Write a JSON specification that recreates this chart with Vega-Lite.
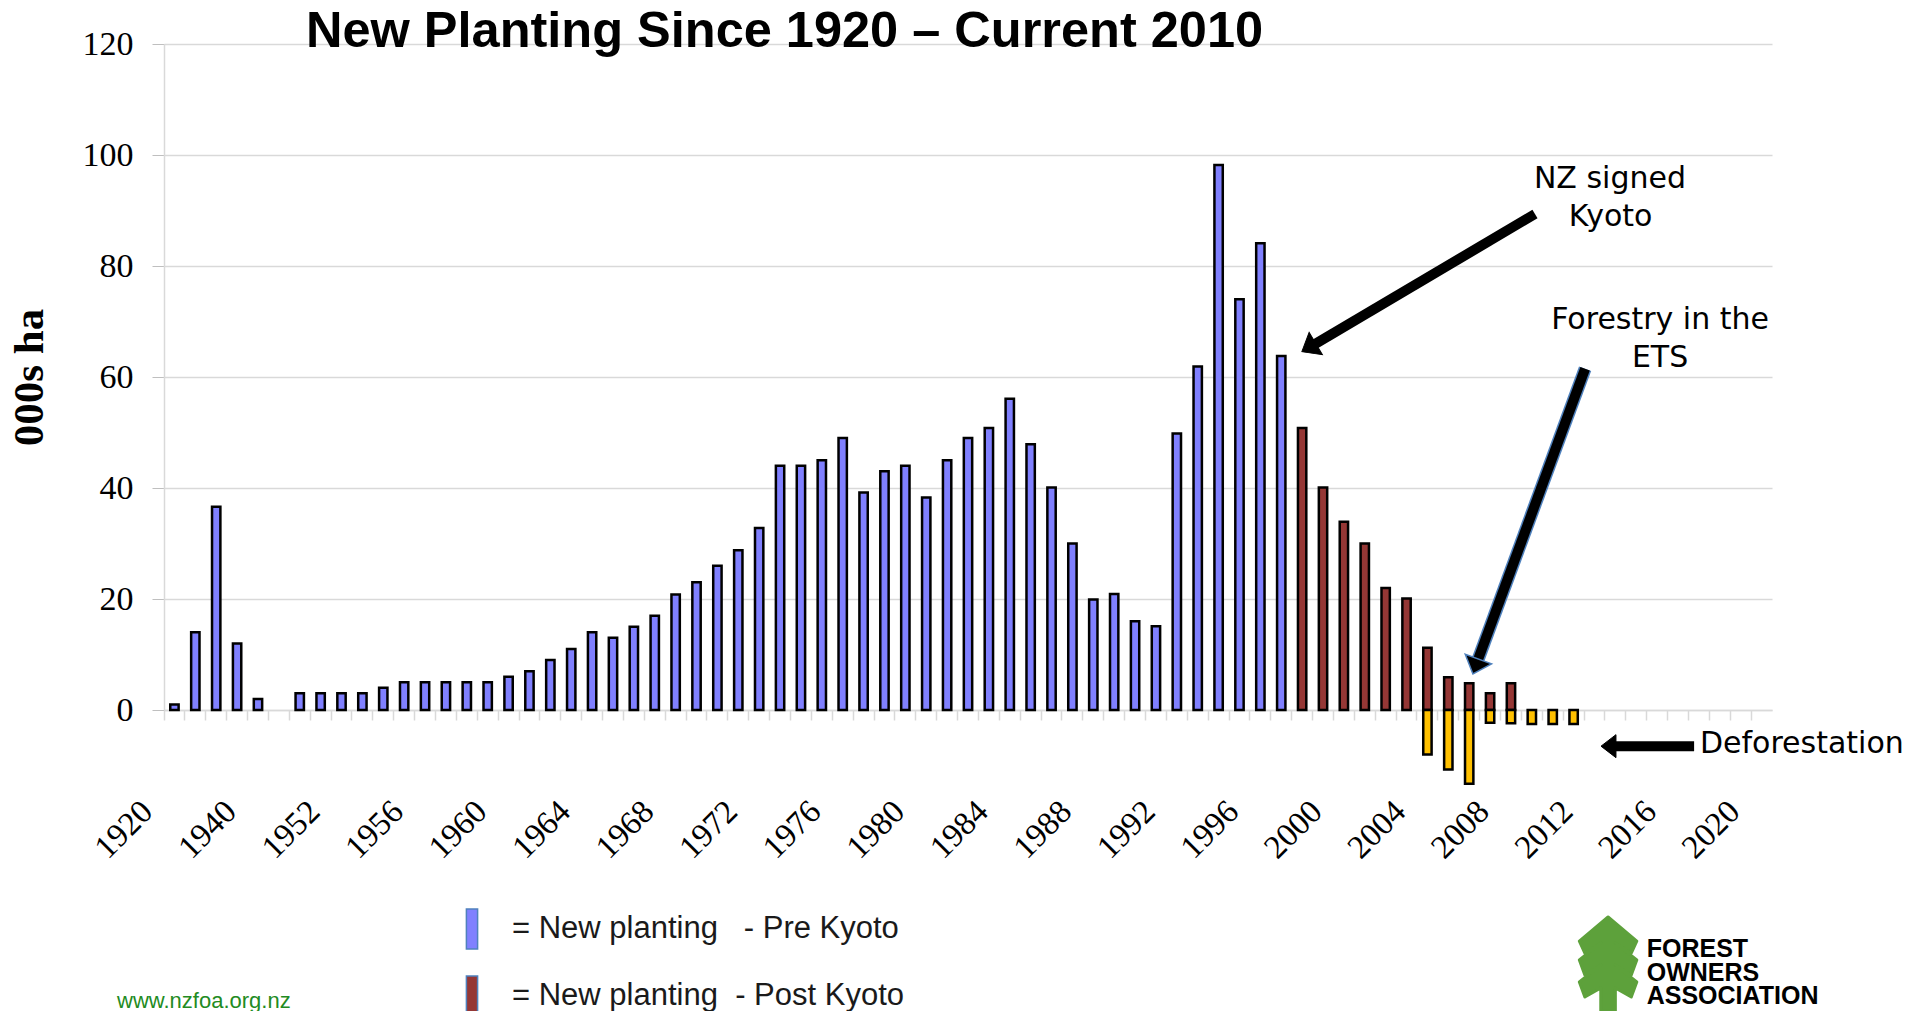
{
  "$schema": "https://vega.github.io/schema/vega-lite/v6.json",
  "width": 1608,
  "height": 666,
  "autosize": {"type": "none"},
  "padding": {"left": 164, "top": 44, "right": 155, "bottom": 301},
  "background": "white",
  "config": {"view": {"stroke": null}, "font": "Liberation Sans"},
  "title": {
    "text": "New Planting Since 1920 – Current 2010",
    "anchor": "start", "frame": "group", "dx": 142, "offset": -70,
    "baseline": "alphabetic", "font": "Liberation Sans", "fontSize": 50.5,
    "fontWeight": "bold", "color": "black"
  },
  "datasets": {
    "bars": [
      {"year": "1920", "value": 1, "type": "Pre Kyoto"},
      {"year": "1925", "value": 14, "type": "Pre Kyoto"},
      {"year": "1930", "value": 36.6, "type": "Pre Kyoto"},
      {"year": "1935", "value": 12, "type": "Pre Kyoto"},
      {"year": "1940", "value": 2, "type": "Pre Kyoto"},
      {"year": "1950", "value": 3, "type": "Pre Kyoto"},
      {"year": "1951", "value": 3, "type": "Pre Kyoto"},
      {"year": "1952", "value": 3, "type": "Pre Kyoto"},
      {"year": "1953", "value": 3, "type": "Pre Kyoto"},
      {"year": "1954", "value": 4, "type": "Pre Kyoto"},
      {"year": "1955", "value": 5, "type": "Pre Kyoto"},
      {"year": "1956", "value": 5, "type": "Pre Kyoto"},
      {"year": "1957", "value": 5, "type": "Pre Kyoto"},
      {"year": "1958", "value": 5, "type": "Pre Kyoto"},
      {"year": "1959", "value": 5, "type": "Pre Kyoto"},
      {"year": "1960", "value": 6, "type": "Pre Kyoto"},
      {"year": "1961", "value": 7, "type": "Pre Kyoto"},
      {"year": "1962", "value": 9, "type": "Pre Kyoto"},
      {"year": "1963", "value": 11, "type": "Pre Kyoto"},
      {"year": "1964", "value": 14, "type": "Pre Kyoto"},
      {"year": "1965", "value": 13, "type": "Pre Kyoto"},
      {"year": "1966", "value": 15, "type": "Pre Kyoto"},
      {"year": "1967", "value": 17, "type": "Pre Kyoto"},
      {"year": "1968", "value": 20.8, "type": "Pre Kyoto"},
      {"year": "1969", "value": 23, "type": "Pre Kyoto"},
      {"year": "1970", "value": 26, "type": "Pre Kyoto"},
      {"year": "1971", "value": 28.8, "type": "Pre Kyoto"},
      {"year": "1972", "value": 32.8, "type": "Pre Kyoto"},
      {"year": "1973", "value": 44, "type": "Pre Kyoto"},
      {"year": "1974", "value": 44, "type": "Pre Kyoto"},
      {"year": "1975", "value": 45, "type": "Pre Kyoto"},
      {"year": "1976", "value": 49, "type": "Pre Kyoto"},
      {"year": "1977", "value": 39.2, "type": "Pre Kyoto"},
      {"year": "1978", "value": 43, "type": "Pre Kyoto"},
      {"year": "1979", "value": 44, "type": "Pre Kyoto"},
      {"year": "1980", "value": 38.3, "type": "Pre Kyoto"},
      {"year": "1981", "value": 45, "type": "Pre Kyoto"},
      {"year": "1982", "value": 49, "type": "Pre Kyoto"},
      {"year": "1983", "value": 50.8, "type": "Pre Kyoto"},
      {"year": "1984", "value": 56.1, "type": "Pre Kyoto"},
      {"year": "1985", "value": 47.9, "type": "Pre Kyoto"},
      {"year": "1986", "value": 40.1, "type": "Pre Kyoto"},
      {"year": "1987", "value": 30, "type": "Pre Kyoto"},
      {"year": "1988", "value": 19.9, "type": "Pre Kyoto"},
      {"year": "1989", "value": 20.9, "type": "Pre Kyoto"},
      {"year": "1990", "value": 16, "type": "Pre Kyoto"},
      {"year": "1991", "value": 15.1, "type": "Pre Kyoto"},
      {"year": "1992", "value": 49.8, "type": "Pre Kyoto"},
      {"year": "1993", "value": 61.9, "type": "Pre Kyoto"},
      {"year": "1994", "value": 98.2, "type": "Pre Kyoto"},
      {"year": "1995", "value": 74, "type": "Pre Kyoto"},
      {"year": "1996", "value": 84.1, "type": "Pre Kyoto"},
      {"year": "1997", "value": 63.8, "type": "Pre Kyoto"},
      {"year": "1998", "value": 50.8, "type": "Post Kyoto"},
      {"year": "1999", "value": 40.1, "type": "Post Kyoto"},
      {"year": "2000", "value": 33.9, "type": "Post Kyoto"},
      {"year": "2001", "value": 30, "type": "Post Kyoto"},
      {"year": "2002", "value": 22, "type": "Post Kyoto"},
      {"year": "2003", "value": 20.1, "type": "Post Kyoto"},
      {"year": "2004", "value": 11.2, "type": "Post Kyoto"},
      {"year": "2005", "value": 5.9, "type": "Post Kyoto"},
      {"year": "2006", "value": 4.8, "type": "Post Kyoto"},
      {"year": "2007", "value": 3, "type": "Post Kyoto"},
      {"year": "2008", "value": 4.8, "type": "Post Kyoto"},
      {"year": "2004", "value": -8, "type": "Deforestation"},
      {"year": "2005", "value": -10.7, "type": "Deforestation"},
      {"year": "2006", "value": -13.3, "type": "Deforestation"},
      {"year": "2007", "value": -2.3, "type": "Deforestation"},
      {"year": "2008", "value": -2.4, "type": "Deforestation"},
      {"year": "2009", "value": -2.5, "type": "Deforestation"},
      {"year": "2010", "value": -2.5, "type": "Deforestation"},
      {"year": "2011", "value": -2.5, "type": "Deforestation"}
    ],
    "notes": [
      {"group": "callout", "text": "NZ signed", "xi": 69.24, "v": 94.05},
      {"group": "callout", "text": "Kyoto", "xi": 69.27, "v": 87.2},
      {"group": "callout", "text": "Forestry in the", "xi": 71.64, "v": 68.65},
      {"group": "callout", "text": "ETS", "xi": 71.64, "v": 61.8},
      {"group": "defor", "text": "Deforestation", "xi": 73.55, "v": -7.75},
      {"group": "url", "text": "www.nzfoa.org.nz", "xi": -2.25, "v": -53.7},
      {"group": "logo", "text": "FOREST", "xi": 71.0, "v": -44.5},
      {"group": "logo", "text": "OWNERS", "xi": 71.0, "v": -48.83},
      {"group": "logo", "text": "ASSOCIATION", "xi": 71.0, "v": -52.97}
    ],
    "arrows": [
      {"arrow": "kyoto", "xi": 65.65, "v": 89.37, "xi2": 55.07, "v2": 65.84, "hx": 54.82, "hv": 65.3},
      {"arrow": "ets", "xi": 68.05, "v": 61.5, "xi2": 62.9, "v2": 8.85, "hx": 62.81, "hv": 7.84},
      {"arrow": "defor", "xi": 73.27, "v": -6.52, "xi2": 69.35, "v2": -6.52, "hx": 69.17, "hv": -6.52}
    ],
    "logo": [
      {"name": "tree", "xi": 69.15, "v": -45.77}
    ]
  },
  "resolve": {"scale": {"x": "independent"}},
  "layer": [
    {
      "data": {"name": "bars"},
      "mark": {"type": "bar", "stroke": "black", "strokeWidth": 2.5, "width": {"band": 0.4}},
      "encoding": {
        "x": {
          "field": "year", "type": "ordinal",
          "scale": {"domain": ["1920","1925","1930","1935","1940","1945","1950","1951","1952","1953","1954","1955","1956","1957","1958","1959","1960","1961","1962","1963","1964","1965","1966","1967","1968","1969","1970","1971","1972","1973","1974","1975","1976","1977","1978","1979","1980","1981","1982","1983","1984","1985","1986","1987","1988","1989","1990","1991","1992","1993","1994","1995","1996","1997","1998","1999","2000","2001","2002","2003","2004","2005","2006","2007","2008","2009","2010","2011","2012","2013","2014","2015","2016","2017","2018","2019","2020"], "paddingInner": 0, "paddingOuter": 0},
          "axis": {
            "title": null, "bandPosition": 0, "grid": false,
            "domainColor": "#d9d9d9", "domainWidth": 1.5,
            "tickColor": "#d9d9d9", "tickSize": 10, "tickWidth": 1.5,
            "labelAngle": -45, "labelAlign": "right", "labelBaseline": "middle",
            "labelFont": "Liberation Serif", "labelFontSize": 33, "labelColor": "black",
            "labelPadding": 86, "labelOffset": -27, "labelOverlap": false, "labelBound": false, "labelFlush": false,
            "labelExpr": "datum.value == '1920' || datum.value == '1940' || (toNumber(datum.value) >= 1952 && (toNumber(datum.value) - 1952) % 4 == 0) ? datum.value : ''"
          }
        },
        "y": {
          "field": "value", "type": "quantitative", "stack": null,
          "scale": {"domain": [0, 120], "nice": false, "zero": false},
          "axis": {
            "values": [0, 20, 40, 60, 80, 100, 120],
            "title": "000s ha", "titleFont": "Liberation Serif", "titleFontSize": 43,
            "titleFontWeight": "bold", "titleColor": "black", "titlePadding": 30.5,
            "labelFont": "Liberation Serif", "labelFontSize": 34, "labelColor": "black",
            "labelPadding": 19, "tickSize": 12, "tickColor": "#bfbfbf",
            "domainColor": "#d9d9d9", "domainWidth": 1.5,
            "grid": true, "gridColor": "#d9d9d9", "gridWidth": 1.5
          }
        },
        "color": {
          "field": "type", "type": "nominal",
          "scale": {"domain": ["Pre Kyoto", "Post Kyoto", "Deforestation"], "range": ["#8080FF", "#953735", "#FFC000"]},
          "legend": {
            "orient": "none", "legendX": 287, "legendY": 864, "padding": 0,
            "values": ["Pre Kyoto", "Post Kyoto"], "title": null, "direction": "vertical",
            "symbolType": "M-0.28,-1H0.28V1H-0.28Z", "symbolSize": 1600,
            "symbolStrokeColor": "#4F81BD", "symbolStrokeWidth": 1.5, "symbolOpacity": 1,
            "labelFont": "Liberation Sans", "labelFontSize": 31, "labelColor": "#1a1a1a",
            "labelOffset": 19, "labelLimit": 0, "rowPadding": 21,
            "labelExpr": "datum.label == 'Pre Kyoto' ? '=\u00a0New planting\u00a0\u00a0\u00a0-\u00a0Pre Kyoto' : '=\u00a0New planting\u00a0\u00a0-\u00a0Post Kyoto'"
          }
        }
      }
    },
    {
      "data": {"name": "arrows"},
      "transform": [{"filter": "datum.arrow == 'ets'"}],
      "mark": {"type": "rule", "stroke": "#4F81BD", "strokeWidth": 13, "strokeCap": "butt"},
      "encoding": {
        "x": {"field": "xi", "type": "quantitative", "scale": {"domain": [0, 77], "nice": false, "zero": false}, "axis": null},
        "x2": {"field": "xi2"},
        "y": {"field": "v", "type": "quantitative", "scale": {"domain": [0, 120], "nice": false, "zero": false}},
        "y2": {"field": "v2"}
      }
    },
    {
      "data": {"name": "arrows"},
      "mark": {"type": "rule", "stroke": "black", "strokeWidth": 10, "strokeCap": "butt"},
      "encoding": {
        "x": {"field": "xi", "type": "quantitative", "scale": {"domain": [0, 77], "nice": false, "zero": false}, "axis": null},
        "x2": {"field": "xi2"},
        "y": {"field": "v", "type": "quantitative", "scale": {"domain": [0, 120], "nice": false, "zero": false}},
        "y2": {"field": "v2"}
      }
    },
    {
      "data": {"name": "arrows"},
      "transform": [{"filter": "datum.arrow == 'kyoto'"}],
      "mark": {"type": "point", "shape": "M0,-0.62L1,0.62L-1,0.62Z", "size": 676, "angle": 239.4, "filled": true, "fill": "black", "stroke": "black", "strokeWidth": 1, "opacity": 1},
      "encoding": {
        "x": {"field": "hx", "type": "quantitative", "scale": {"domain": [0, 77], "nice": false, "zero": false}, "axis": null},
        "y": {"field": "hv", "type": "quantitative", "scale": {"domain": [0, 120], "nice": false, "zero": false}}
      }
    },
    {
      "data": {"name": "arrows"},
      "transform": [{"filter": "datum.arrow == 'ets'"}],
      "mark": {"type": "point", "shape": "M0,-0.57L1,0.57L-1,0.57Z", "size": 784, "angle": 200.15, "filled": true, "fill": "black", "stroke": "#4F81BD", "strokeWidth": 1.5, "opacity": 1},
      "encoding": {
        "x": {"field": "hx", "type": "quantitative", "scale": {"domain": [0, 77], "nice": false, "zero": false}, "axis": null},
        "y": {"field": "hv", "type": "quantitative", "scale": {"domain": [0, 120], "nice": false, "zero": false}}
      }
    },
    {
      "data": {"name": "arrows"},
      "transform": [{"filter": "datum.arrow == 'defor'"}],
      "mark": {"type": "point", "shape": "M0,-0.65L1,0.65L-1,0.65Z", "size": 529, "angle": 270, "filled": true, "fill": "black", "stroke": "black", "strokeWidth": 1, "opacity": 1},
      "encoding": {
        "x": {"field": "hx", "type": "quantitative", "scale": {"domain": [0, 77], "nice": false, "zero": false}, "axis": null},
        "y": {"field": "hv", "type": "quantitative", "scale": {"domain": [0, 120], "nice": false, "zero": false}}
      }
    },
    {
      "data": {"name": "notes"},
      "transform": [{"filter": "datum.group == 'callout'"}],
      "mark": {"type": "text", "font": "DejaVu Sans", "fontSize": 30, "align": "center", "baseline": "alphabetic", "color": "black"},
      "encoding": {
        "x": {"field": "xi", "type": "quantitative", "scale": {"domain": [0, 77], "nice": false, "zero": false}, "axis": null},
        "y": {"field": "v", "type": "quantitative", "scale": {"domain": [0, 120], "nice": false, "zero": false}},
        "text": {"field": "text"}
      }
    },
    {
      "data": {"name": "notes"},
      "transform": [{"filter": "datum.group == 'defor'"}],
      "mark": {"type": "text", "font": "DejaVu Sans", "fontSize": 30, "align": "left", "baseline": "alphabetic", "color": "black"},
      "encoding": {
        "x": {"field": "xi", "type": "quantitative", "scale": {"domain": [0, 77], "nice": false, "zero": false}, "axis": null},
        "y": {"field": "v", "type": "quantitative", "scale": {"domain": [0, 120], "nice": false, "zero": false}},
        "text": {"field": "text"}
      }
    },
    {
      "data": {"name": "notes"},
      "transform": [{"filter": "datum.group == 'url'"}],
      "mark": {"type": "text", "font": "Liberation Sans", "fontSize": 22, "align": "left", "baseline": "alphabetic", "color": "#228B22"},
      "encoding": {
        "x": {"field": "xi", "type": "quantitative", "scale": {"domain": [0, 77], "nice": false, "zero": false}, "axis": null},
        "y": {"field": "v", "type": "quantitative", "scale": {"domain": [0, 120], "nice": false, "zero": false}},
        "text": {"field": "text"}
      }
    },
    {
      "data": {"name": "notes"},
      "transform": [{"filter": "datum.group == 'logo'"}],
      "mark": {"type": "text", "font": "Liberation Sans", "fontSize": 25, "fontWeight": "bold", "align": "left", "baseline": "alphabetic", "color": "black"},
      "encoding": {
        "x": {"field": "xi", "type": "quantitative", "scale": {"domain": [0, 77], "nice": false, "zero": false}, "axis": null},
        "y": {"field": "v", "type": "quantitative", "scale": {"domain": [0, 120], "nice": false, "zero": false}},
        "text": {"field": "text"}
      }
    },
    {
      "data": {"name": "logo"},
      "mark": {"type": "point", "shape": "M0,-1L-0.611,-0.489L-0.494,-0.234L-0.155,-0.447L-0.611,-0.085L-0.494,0.234L-0.155,0.021L-0.611,0.383L-0.494,0.702L-0.155,0.511L-0.155,1L0.155,1L0.155,0.511L0.494,0.702L0.611,0.383L0.155,0.021L0.494,0.234L0.611,-0.085L0.155,-0.447L0.494,-0.234L0.611,-0.489Z", "size": 8836, "filled": true, "fill": "#5DA13B", "stroke": "#5DA13B", "strokeWidth": 3, "strokeJoin": "round", "opacity": 1},
      "encoding": {
        "x": {"field": "xi", "type": "quantitative", "scale": {"domain": [0, 77], "nice": false, "zero": false}, "axis": null},
        "y": {"field": "v", "type": "quantitative", "scale": {"domain": [0, 120], "nice": false, "zero": false}}
      }
    }
  ]
}
